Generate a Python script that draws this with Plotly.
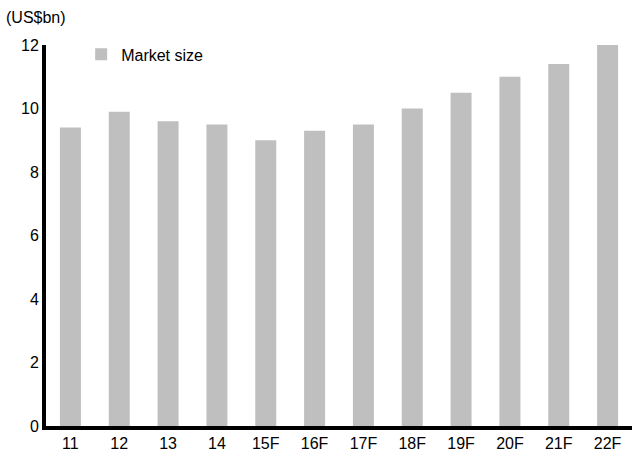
import plotly.graph_objects as go

categories = ["11", "12", "13", "14", "15F", "16F", "17F", "18F", "19F", "20F", "21F", "22F"]
market_size = [9.4, 9.9, 9.6, 9.5, 9.0, 9.3, 9.5, 10.0, 10.5, 11.0, 11.4, 12.0]
y_ticks = [0, 2, 4, 6, 8, 10, 12]

FONT = "Liberation Sans"

fig = go.Figure()
fig.add_trace(go.Bar(
    x=categories, y=market_size, name="Market size",
    marker=dict(color="#bfbfbf", line=dict(width=0)),
))

fig.update_layout(
    width=634, height=457,
    margin=dict(l=46, r=2, t=45, b=31),
    paper_bgcolor="white", plot_bgcolor="white",
    font=dict(family=FONT, size=16, color="black"),
    bargap=0.57,
    showlegend=True,
    legend=dict(x=0.06, y=1.02, xanchor="left", yanchor="top",
                bgcolor="rgba(0,0,0,0)", font=dict(size=16),
                itemwidth=30),
)
fig.update_xaxes(type="category", showline=True, linecolor="black", linewidth=4,
                 ticks="outside", ticklen=0, tickcolor="black", tickwidth=2,
                 showgrid=False, zeroline=False, automargin=False)
fig.update_yaxes(range=[0, 12], tickvals=y_ticks, showline=True, linecolor="black",
                 linewidth=4, ticks="outside", ticklen=0, tickcolor="black",
                 tickwidth=2, showgrid=False, zeroline=False, automargin=False)
fig.add_annotation(text="(US$bn)", x=0, y=1, xref="paper", yref="paper",
                   xanchor="left", yanchor="top", showarrow=False,
                   font=dict(size=16), xshift=-42, yshift=38)

fig.write_html("out.html")
